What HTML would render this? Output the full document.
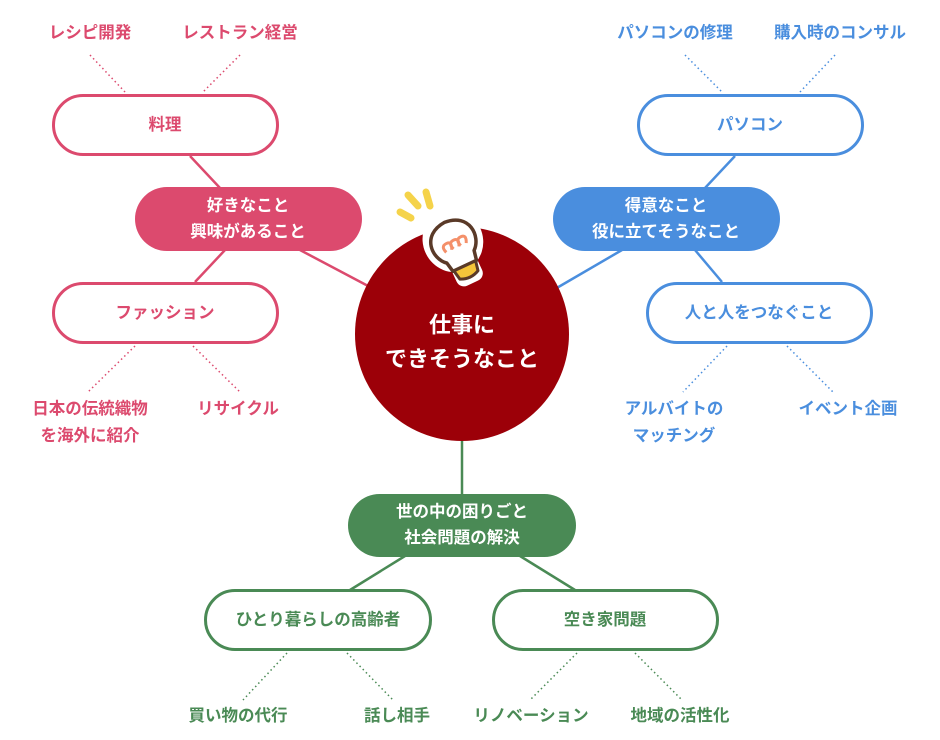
<!DOCTYPE html>
<html><head><meta charset="utf-8"><style>
html,body{margin:0;padding:0;background:#fff}
svg{display:block}
text{font-family:"Liberation Sans","Noto Sans CJK JP",sans-serif;font-weight:bold;text-anchor:middle;dominant-baseline:central}
</style></head><body>
<svg width="940" height="740" viewBox="0 0 940 740" xmlns="http://www.w3.org/2000/svg">
<g stroke-width="2.5" fill="none">
<line x1="300" y1="250" x2="370" y2="287" stroke="#dc4a6e"/>
<line x1="190" y1="156" x2="220" y2="188" stroke="#dc4a6e"/>
<line x1="225" y1="250" x2="195" y2="282" stroke="#dc4a6e"/>
<line x1="622" y1="250" x2="555" y2="289" stroke="#4a8ede"/>
<line x1="735" y1="156" x2="705" y2="188" stroke="#4a8ede"/>
<line x1="695" y1="250" x2="722" y2="282" stroke="#4a8ede"/>
<line x1="462" y1="438" x2="462" y2="495" stroke="#4a8a55"/>
<line x1="405" y1="556" x2="350" y2="590" stroke="#4a8a55"/>
<line x1="520" y1="556" x2="575" y2="590" stroke="#4a8a55"/>
</g>
<g stroke-width="1.5" stroke-dasharray="1.5 3" fill="none">
<g stroke="#dc4a6e">
<line x1="90" y1="55" x2="125" y2="92"/><line x1="240" y1="55" x2="203" y2="92"/>
<line x1="135" y1="346" x2="88" y2="392"/><line x1="193" y1="346" x2="240" y2="392"/>
</g>
<g stroke="#4a8ede">
<line x1="685" y1="55" x2="722" y2="92"/><line x1="835" y1="55" x2="800" y2="92"/>
<line x1="727" y1="346" x2="683" y2="392"/><line x1="787" y1="346" x2="833" y2="392"/>
</g>
<g stroke="#4a8a55">
<line x1="287" y1="653" x2="243" y2="700"/><line x1="347" y1="653" x2="393" y2="700"/>
<line x1="577" y1="653" x2="530" y2="700"/><line x1="635" y1="653" x2="682" y2="700"/>
</g>
</g>
<circle cx="462" cy="334" r="107" fill="#9c0008"/>
<rect x="135" y="187" width="227" height="64" rx="32" fill="#dc4a6e"/>
<rect x="553" y="187" width="227" height="64" rx="32" fill="#4a8ede"/>
<rect x="348" y="494" width="228" height="63" rx="31.5" fill="#4a8a55"/>
<g fill="#fff" stroke-width="3">
<rect x="53.5" y="95.5" width="224" height="59" rx="29.5" stroke="#dc4a6e"/>
<rect x="53.5" y="283.5" width="224" height="59" rx="29.5" stroke="#dc4a6e"/>
<rect x="638.5" y="95.5" width="224" height="59" rx="29.5" stroke="#4a8ede"/>
<rect x="647.5" y="283.5" width="224" height="59" rx="29.5" stroke="#4a8ede"/>
<rect x="205.5" y="590.5" width="225" height="59" rx="29.5" stroke="#4a8a55"/>
<rect x="493.5" y="590.5" width="224" height="59" rx="29.5" stroke="#4a8a55"/>
</g>
<!-- lightbulb -->
<g stroke="#f5d34a" stroke-width="7" stroke-linecap="round">
<line x1="400" y1="212" x2="411" y2="218"/>
<line x1="408" y1="195" x2="418" y2="206"/>
<line x1="426" y1="192" x2="430" y2="206"/>
</g>
<g transform="rotate(-25 455 245)">
<ellipse cx="455" cy="240" rx="30" ry="32" fill="#fff"/>
<rect x="441" y="255" width="28" height="32" rx="8" fill="#fff"/>
<path d="M440 258 C428 248 428 222 455 220 C482 222 482 248 470 258 L468 268 L442 268 Z" fill="#fff" stroke="#5a3a28" stroke-width="3.5" stroke-linejoin="round"/>
<path d="M443 268 L467 268 L465 278 Q455 283 445 278 Z" fill="#f5c53a" stroke="#5a3a28" stroke-width="3" stroke-linejoin="round"/>
<path d="M444 248 q-3 -8 4 -8 q6 0 2 8 M452 248 q-3 -8 4 -8 q6 0 2 8 M460 248 q-3 -8 4 -8 q6 0 2 8" fill="none" stroke="#f4906a" stroke-width="3"/>
</g>
<g font-size="22" fill="#fff">
<text x="462" y="325">仕事に</text>
<text x="462" y="359">できそうなこと</text>
</g>
<g font-size="16.5" fill="#fff">
<text x="248" y="206">好きなこと</text><text x="248" y="232">興味があること</text>
<text x="666" y="206">得意なこと</text><text x="666" y="232">役に立てそうなこと</text>
<text x="462" y="512">世の中の困りごと</text><text x="462" y="538">社会問題の解決</text>
</g>
<g font-size="16.5" fill="#dc4a6e">
<text x="165" y="125">料理</text><text x="165" y="313">ファッション</text>
<text x="90" y="33">レシピ開発</text><text x="240" y="33">レストラン経営</text>
<text x="90" y="409">日本の伝統織物</text><text x="90" y="436">を海外に紹介</text>
<text x="238" y="409">リサイクル</text>
</g>
<g font-size="16.5" fill="#4a8ede">
<text x="750" y="125">パソコン</text><text x="759" y="313">人と人をつなぐこと</text>
<text x="675" y="33">パソコンの修理</text><text x="840" y="33">購入時のコンサル</text>
<text x="674" y="409">アルバイトの</text><text x="674" y="436">マッチング</text>
<text x="848" y="409">イベント企画</text>
</g>
<g font-size="16.5" fill="#4a8a55">
<text x="318" y="620">ひとり暮らしの高齢者</text><text x="605" y="620">空き家問題</text>
<text x="238" y="716">買い物の代行</text><text x="397" y="716">話し相手</text>
<text x="531" y="716">リノベーション</text><text x="680" y="716">地域の活性化</text>
</g>
</svg>
</body></html>
